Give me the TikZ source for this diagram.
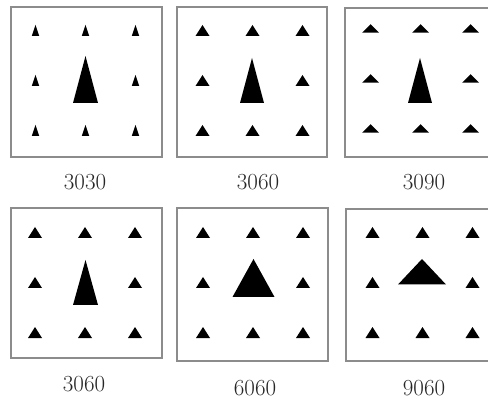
\documentclass[tikz,border=0pt]{standalone}
\tikzset{
  frame/.style={draw=black!45, line width=1.1pt},
  lab/.style={font=\fontsize{23}{27}\selectfont, text=black!85, inner sep=0pt},
}
% big/small triangle: centre x, apex y, half base, base y
\newcommand\tri[4]{\fill ({#1},{#2}) -- ({#1-#3},{#4}) -- ({#1+#3},{#4}) -- cycle;}
% ring of 8 small triangles: grid centre x, grid centre y, half base, half height
\newcommand\ring[4]{%
  \foreach \dx/\dy in {-50/-50,0/-50,50/-50,-50/0,50/0,-50/50,0/50,50/50}{%
    \fill ({#1+\dx},{#2+\dy-#4}) -- ({#1+\dx-#3},{#2+\dy+#4}) -- ({#1+\dx+#3},{#2+\dy+#4}) -- cycle;}}
\begin{document}
\begin{tikzpicture}[x=1pt,y=-1pt]
\clip (0,0) rectangle (488,401);
\fill[white] (0,0) rectangle (488,401);
% frames
\draw[frame] (11,7) rectangle (162,157);
\draw[frame] (177,7) rectangle (327,157);
\draw[frame] (345,8) rectangle (495,157);
\draw[frame] (11,208) rectangle (162,358);
\draw[frame] (177,208) rectangle (328,361);
\draw[frame] (346,209) rectangle (496,361);
% small triangles
\ring{85.5}{80.5}{3.75}{5.5}
\ring{252.5}{80.5}{7}{5.5}
\ring{420.5}{78.5}{8.5}{4.25}
\ring{85}{282.5}{7}{5.5}
\ring{253}{282.5}{7}{5.5}
\ring{422.5}{282.5}{7}{5.5}
% big triangles
\tri{85.5}{56}{12.5}{103}
\tri{252}{58}{12}{103}
\tri{420}{58}{12}{103}
\tri{85.5}{260}{12.5}{305}
\tri{253.5}{259}{21}{297}
\tri{422}{259}{24}{284.5}
% labels
\node[lab] (l1) at (85,182) {3030};
\node[lab] (l2) at (258,182) {3060};
\node[lab] (l3) at (424,182) {3090};
\node[lab] (l4) at (84,384) {3060};
\node[lab] (l5) at (255,388) {6060};
\node[lab] (l6) at (424,388) {9060};
\end{tikzpicture}
\end{document}
